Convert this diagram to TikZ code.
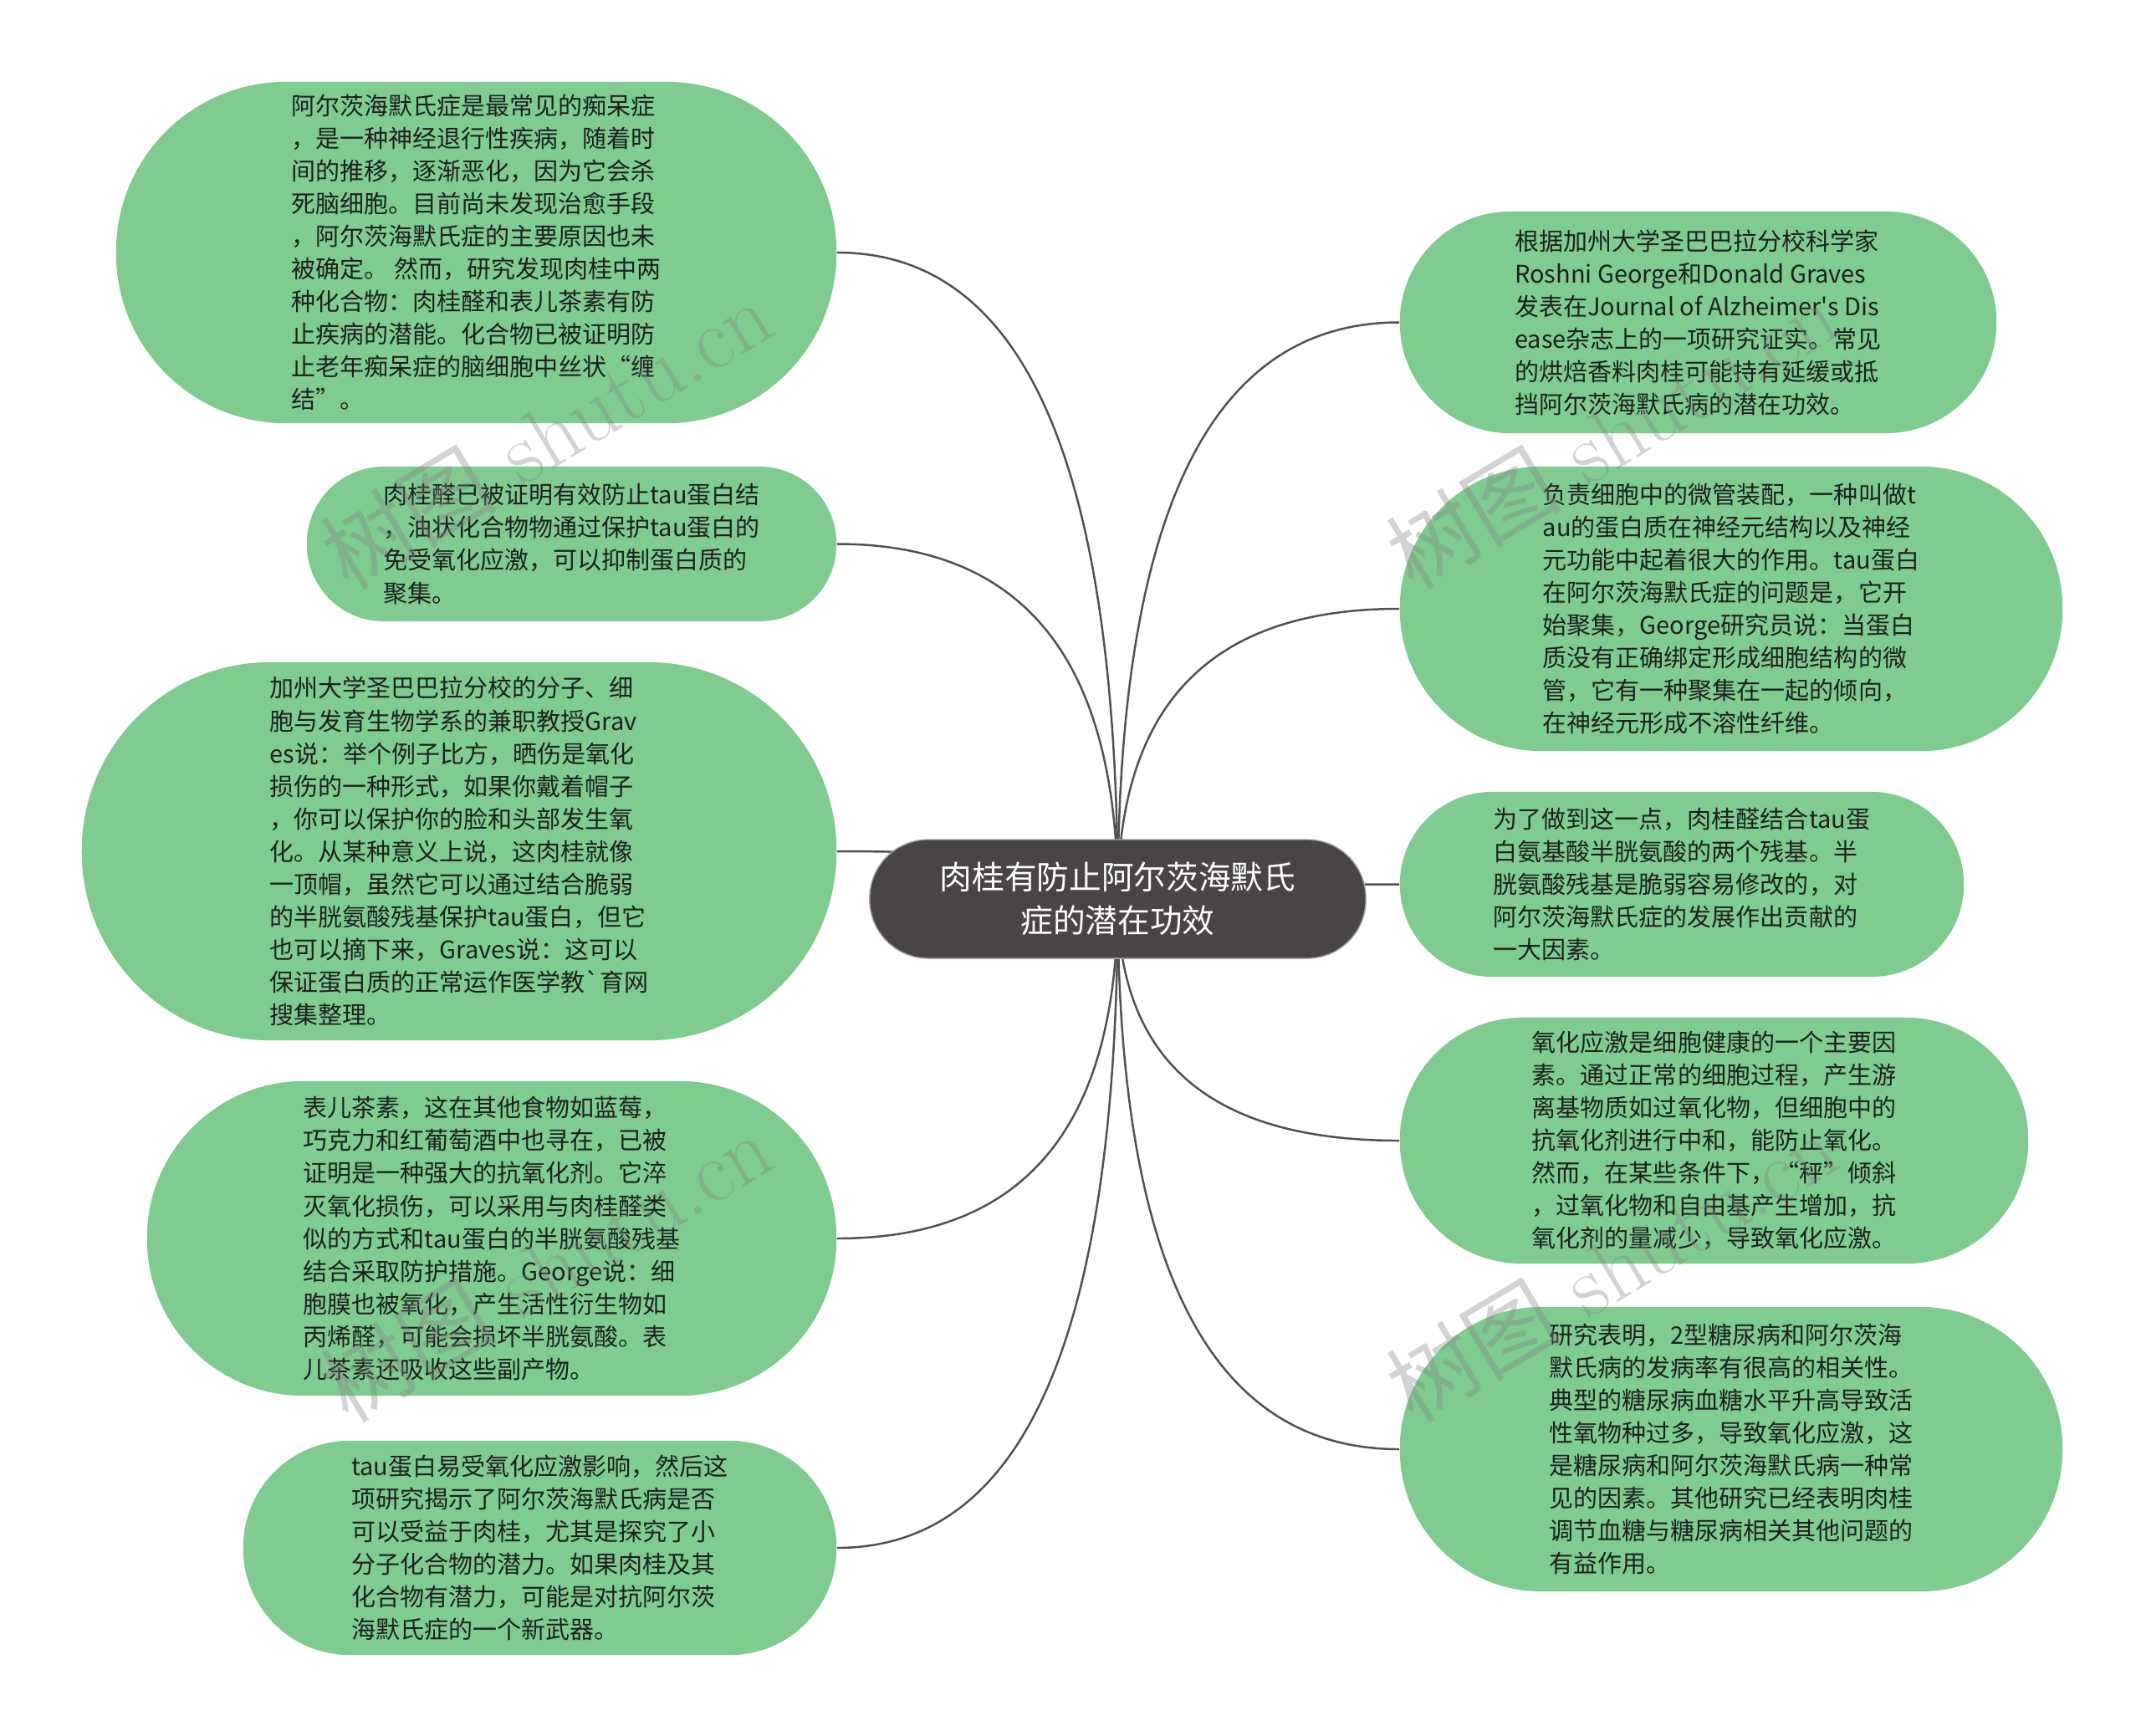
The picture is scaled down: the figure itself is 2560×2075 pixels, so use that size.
\documentclass[tikz,border=0pt]{standalone}
\usepackage{fontspec}
\usepackage{xcolor}
\usepackage{tikz}
\usetikzlibrary{positioning,backgrounds,calc}
\newfontfamily\cjk{Noto Sans CJK SC}
\definecolor{leafgreen}{RGB}{128,204,144}
\definecolor{hubgray}{RGB}{74,69,69}
\definecolor{linkgray}{RGB}{80,80,80}
\definecolor{leaftext}{RGB}{28,32,28}

\begin{document}
\begin{tikzpicture}[x=0.01cm, y=-0.01cm,
  leaf/.style={rectangle, fill=leafgreen, inner sep=0pt, align=left,
               font=\cjk\fontsize{8.25pt}{11.1pt}\selectfont, text=leaftext},
  hub/.style={rectangle, fill=hubgray, draw=gray!70, line width=0.4pt,
              inner sep=0pt, align=center, text=white,
              font=\cjk\fontsize{11pt}{14.8pt}\selectfont},
  link/.style={draw=linkgray, line width=0.7pt},
  wmark/.style={text=gray, opacity=0.35, rotate=31,
                font=\fontsize{30pt}{32pt}\selectfont}
]
  \useasboundingbox (0,0) rectangle (2560,2075);

  % Centre topic
  \node[hub, minimum width=5.93cm, minimum height=1.42cm, rounded corners=0.7cm]
    (root) at (1336.5,1075) {肉桂有防止阿尔茨海默氏\\症的潜在功效};

  % Left side
  \node[leaf, minimum width=8.61cm, minimum height=4.08cm, rounded corners=2.03cm]
    (intro) at (569.5,302) {
    阿尔茨海默氏症是最常见的痴呆症\\
    ，是一种神经退行性疾病，随着时\\
    间的推移，逐渐恶化，因为它会杀\\
    死脑细胞。目前尚未发现治愈手段\\
    ，阿尔茨海默氏症的主要原因也未\\
    被确定。 然而，研究发现肉桂中两\\
    种化合物：肉桂醛和表儿茶素有防\\
    止疾病的潜能。化合物已被证明防\\
    止老年痴呆症的脑细胞中丝状“缠\\
    结”。};
  \node[leaf, minimum width=6.33cm, minimum height=1.85cm, rounded corners=0.92cm]
    (cinnamal) at (683.5,650.5) {
    肉桂醛已被证明有效防止tau蛋白结\\
    ，油状化合物物通过保护tau蛋白的\\
    免受氧化应激，可以抑制蛋白质的\\
    聚集。};
  \node[leaf, minimum width=9.02cm, minimum height=4.52cm, rounded corners=2.25cm]
    (graves) at (549,1018) {
    加州大学圣巴巴拉分校的分子、细\\
    胞与发育生物学系的兼职教授Grav\\
    es说：举个例子比方，晒伤是氧化\\
    损伤的一种形式，如果你戴着帽子\\
    ，你可以保护你的脸和头部发生氧\\
    化。从某种意义上说，这肉桂就像\\
    一顶帽，虽然它可以通过结合脆弱\\
    的半胱氨酸残基保护tau蛋白，但它\\
    也可以摘下来，Graves说：这可以\\
    保证蛋白质的正常运作医学教`育网\\
    搜集整理。};
  \node[leaf, minimum width=8.24cm, minimum height=3.76cm, rounded corners=1.87cm]
    (catechin) at (588,1481) {
    表儿茶素，这在其他食物如蓝莓，\\
    巧克力和红葡萄酒中也寻在，已被\\
    证明是一种强大的抗氧化剂。它淬\\
    灭氧化损伤，可以采用与肉桂醛类\\
    似的方式和tau蛋白的半胱氨酸残基\\
    结合采取防护措施。George说：细\\
    胞膜也被氧化，产生活性衍生物如\\
    丙烯醛，可能会损坏半胱氨酸。表\\
    儿茶素还吸收这些副产物。};
  \node[leaf, minimum width=7.09cm, minimum height=2.56cm, rounded corners=1.27cm]
    (outlook) at (645.5,1851) {
    tau蛋白易受氧化应激影响，然后这\\
    项研究揭示了阿尔茨海默氏病是否\\
    可以受益于肉桂，尤其是探究了小\\
    分子化合物的潜力。如果肉桂及其\\
    化合物有潜力，可能是对抗阿尔茨\\
    海默氏症的一个新武器。};

  % Right side
  \node[leaf, minimum width=7.13cm, minimum height=2.65cm, rounded corners=1.32cm]
    (study) at (2030.5,385.5) {
    根据加州大学圣巴巴拉分校科学家\\
    Roshni George和Donald Graves\\
    发表在Journal of Alzheimer's Dis\\
    ease杂志上的一项研究证实。常见\\
    的烘焙香料肉桂可能持有延缓或抵\\
    挡阿尔茨海默氏病的潜在功效。};
  \node[leaf, minimum width=7.92cm, minimum height=3.40cm, rounded corners=1.69cm]
    (tau) at (2070,728) {
    负责细胞中的微管装配，一种叫做t\\
    au的蛋白质在神经元结构以及神经\\
    元功能中起着很大的作用。tau蛋白\\
    在阿尔茨海默氏症的问题是，它开\\
    始聚集，George研究员说：当蛋白\\
    质没有正确绑定形成细胞结构的微\\
    管，它有一种聚集在一起的倾向，\\
    在神经元形成不溶性纤维。};
  \node[leaf, minimum width=6.74cm, minimum height=2.21cm, rounded corners=1.10cm]
    (cysteine) at (2011,1057.5) {
    为了做到这一点，肉桂醛结合tau蛋\\
    白氨基酸半胱氨酸的两个残基。半\\
    胱氨酸残基是脆弱容易修改的，对\\
    阿尔茨海默氏症的发展作出贡献的\\
    一大因素。};
  \node[leaf, minimum width=7.51cm, minimum height=2.94cm, rounded corners=1.46cm]
    (oxidation) at (2049.5,1364) {
    氧化应激是细胞健康的一个主要因\\
    素。通过正常的细胞过程，产生游\\
    离基物质如过氧化物，但细胞中的\\
    抗氧化剂进行中和，能防止氧化。\\
    然而，在某些条件下，“秤”倾斜\\
    ，过氧化物和自由基产生增加，抗\\
    氧化剂的量减少，导致氧化应激。};
  \node[leaf, minimum width=7.92cm, minimum height=3.40cm, rounded corners=1.69cm]
    (diabetes) at (2070,1733) {
    研究表明，2型糖尿病和阿尔茨海\\
    默氏病的发病率有很高的相关性。\\
    典型的糖尿病血糖水平升高导致活\\
    性氧物种过多，导致氧化应激，这\\
    是糖尿病和阿尔茨海默氏病一种常\\
    见的因素。其他研究已经表明肉桂\\
    调节血糖与糖尿病相关其他问题的\\
    有益作用。};

  % Connectors, behind the boxes
  \begin{scope}[on background layer]
    \fill[white] (0,0) rectangle (2560,2075);
    \draw[link] (root.center) .. controls ($(root.center)!0.67!(root.center |- intro.east)$) and ($(intro.east)!0.67!(root.center |- intro.east)$) .. (intro.east);
    \draw[link] (root.center) .. controls ($(root.center)!0.67!(root.center |- cinnamal.east)$) and ($(cinnamal.east)!0.67!(root.center |- cinnamal.east)$) .. (cinnamal.east);
    \draw[link] (root.center) .. controls ($(root.center)!0.67!(root.center |- graves.east)$) and ($(graves.east)!0.67!(root.center |- graves.east)$) .. (graves.east);
    \draw[link] (root.center) .. controls ($(root.center)!0.67!(root.center |- catechin.east)$) and ($(catechin.east)!0.67!(root.center |- catechin.east)$) .. (catechin.east);
    \draw[link] (root.center) .. controls ($(root.center)!0.67!(root.center |- outlook.east)$) and ($(outlook.east)!0.67!(root.center |- outlook.east)$) .. (outlook.east);
    \draw[link] (root.center) .. controls ($(root.center)!0.67!(root.center |- study.west)$) and ($(study.west)!0.67!(root.center |- study.west)$) .. (study.west);
    \draw[link] (root.center) .. controls ($(root.center)!0.67!(root.center |- tau.west)$) and ($(tau.west)!0.67!(root.center |- tau.west)$) .. (tau.west);
    \draw[link] (root.center) .. controls ($(root.center)!0.67!(root.center |- cysteine.west)$) and ($(cysteine.west)!0.67!(root.center |- cysteine.west)$) .. (cysteine.west);
    \draw[link] (root.center) .. controls ($(root.center)!0.67!(root.center |- oxidation.west)$) and ($(oxidation.west)!0.67!(root.center |- oxidation.west)$) .. (oxidation.west);
    \draw[link] (root.center) .. controls ($(root.center)!0.67!(root.center |- diabetes.west)$) and ($(diabetes.west)!0.67!(root.center |- diabetes.west)$) .. (diabetes.west);
  \end{scope}

  % Watermarks
  \node[wmark] (wm1) at (653,519) {{\cjk 树图} shutu.cn};
  \node[wmark] (wm2) at (653,1515) {{\cjk 树图} shutu.cn};
  \node[wmark] (wm3) at (1927,519) {{\cjk 树图} shutu.cn};
  \node[wmark] (wm4) at (1927,1515) {{\cjk 树图} shutu.cn};
\end{tikzpicture}
\end{document}
